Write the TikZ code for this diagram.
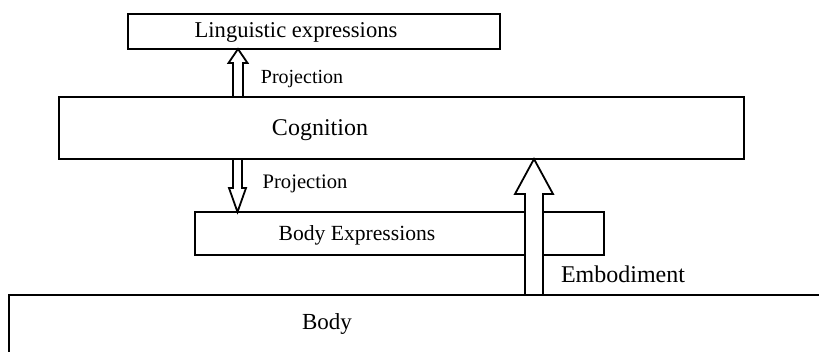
\documentclass[tikz,border=0pt]{standalone}
\usepackage{fontspec}
\setmainfont{Liberation Serif}
\usetikzlibrary{calc}
\tikzset{
  box/.style={draw, line width=0.9pt, rectangle, inner sep=0pt, outer sep=0pt},
  blockarrow/.style={draw, line width=0.9pt, fill=white, line join=miter},
  lbl/.style={inner sep=0pt, anchor=center}
}
\newcommand\arrowup[5]{\draw[blockarrow] let \p1=(#1), \p2=(#2) in
  (\x1-#3,\y1) -- (\x1-#3,\y2-#5) -- (\x1-#4,\y2-#5) -- (\x1,\y2) -- (\x1+#4,\y2-#5) -- (\x1+#3,\y2-#5) -- (\x1+#3,\y1) -- cycle;}
\newcommand\arrowdown[5]{\draw[blockarrow] let \p1=(#1), \p2=(#2) in
  (\x1-#3,\y1) -- (\x1-#3,\y2+#5) -- (\x1-#4,\y2+#5) -- (\x1,\y2) -- (\x1+#4,\y2+#5) -- (\x1+#3,\y2+#5) -- (\x1+#3,\y1) -- cycle;}
\begin{document}
\begin{tikzpicture}[x=0.5pt, y=-0.5pt]
\useasboundingbox (0,0) rectangle (819,352);
\clip (0,0) rectangle (819,352);
% boxes
\node[box, minimum width=186pt, minimum height=17.5pt] (ling) at (314,31.5) {};
\node[box, minimum width=342.5pt, minimum height=31pt] (cog) at (401.5,128) {};
\node[box, minimum width=204.5pt, minimum height=21.5pt] (bexp) at (399.5,233.5) {};
\node[box, minimum width=450pt, minimum height=60pt] (body) at (459,355) {};
% texts
\node[lbl, font=\fontsize{11.3}{13}\selectfont] (tling) at (296,32) {Linguistic expressions};
\node[lbl, font=\fontsize{12}{14}\selectfont] (tcog) at (320,130) {Cognition};
\node[lbl, font=\fontsize{10.8}{13}\selectfont] (tbexp) at (357,235) {Body Expressions};
\node[lbl, font=\fontsize{11.5}{14}\selectfont] (tbody) at (327,324) {Body};
\node[lbl, font=\fontsize{10}{12}\selectfont] (tproj1) at (302,79) {Projection};
\node[lbl, font=\fontsize{10.3}{12}\selectfont] (tproj2) at (305,184) {Projection};
\node[lbl, font=\fontsize{12}{14}\selectfont] (temb) at (623,274) {Embodiment};
% arrows
\coordinate (a1) at (238,0);
\coordinate (a2) at (237.5,0);
\coordinate (a3) at (534,0);
\arrowup{a1 |- cog.north}{a1 |- ling.south}{2.5pt}{4.75pt}{7pt}
\arrowdown{a2 |- cog.south}{a2 |- bexp.north}{2.25pt}{4.25pt}{12pt}
\arrowup{a3 |- body.north}{a3 |- cog.south}{4.5pt}{9.5pt}{17.5pt}
\end{tikzpicture}
\end{document}
